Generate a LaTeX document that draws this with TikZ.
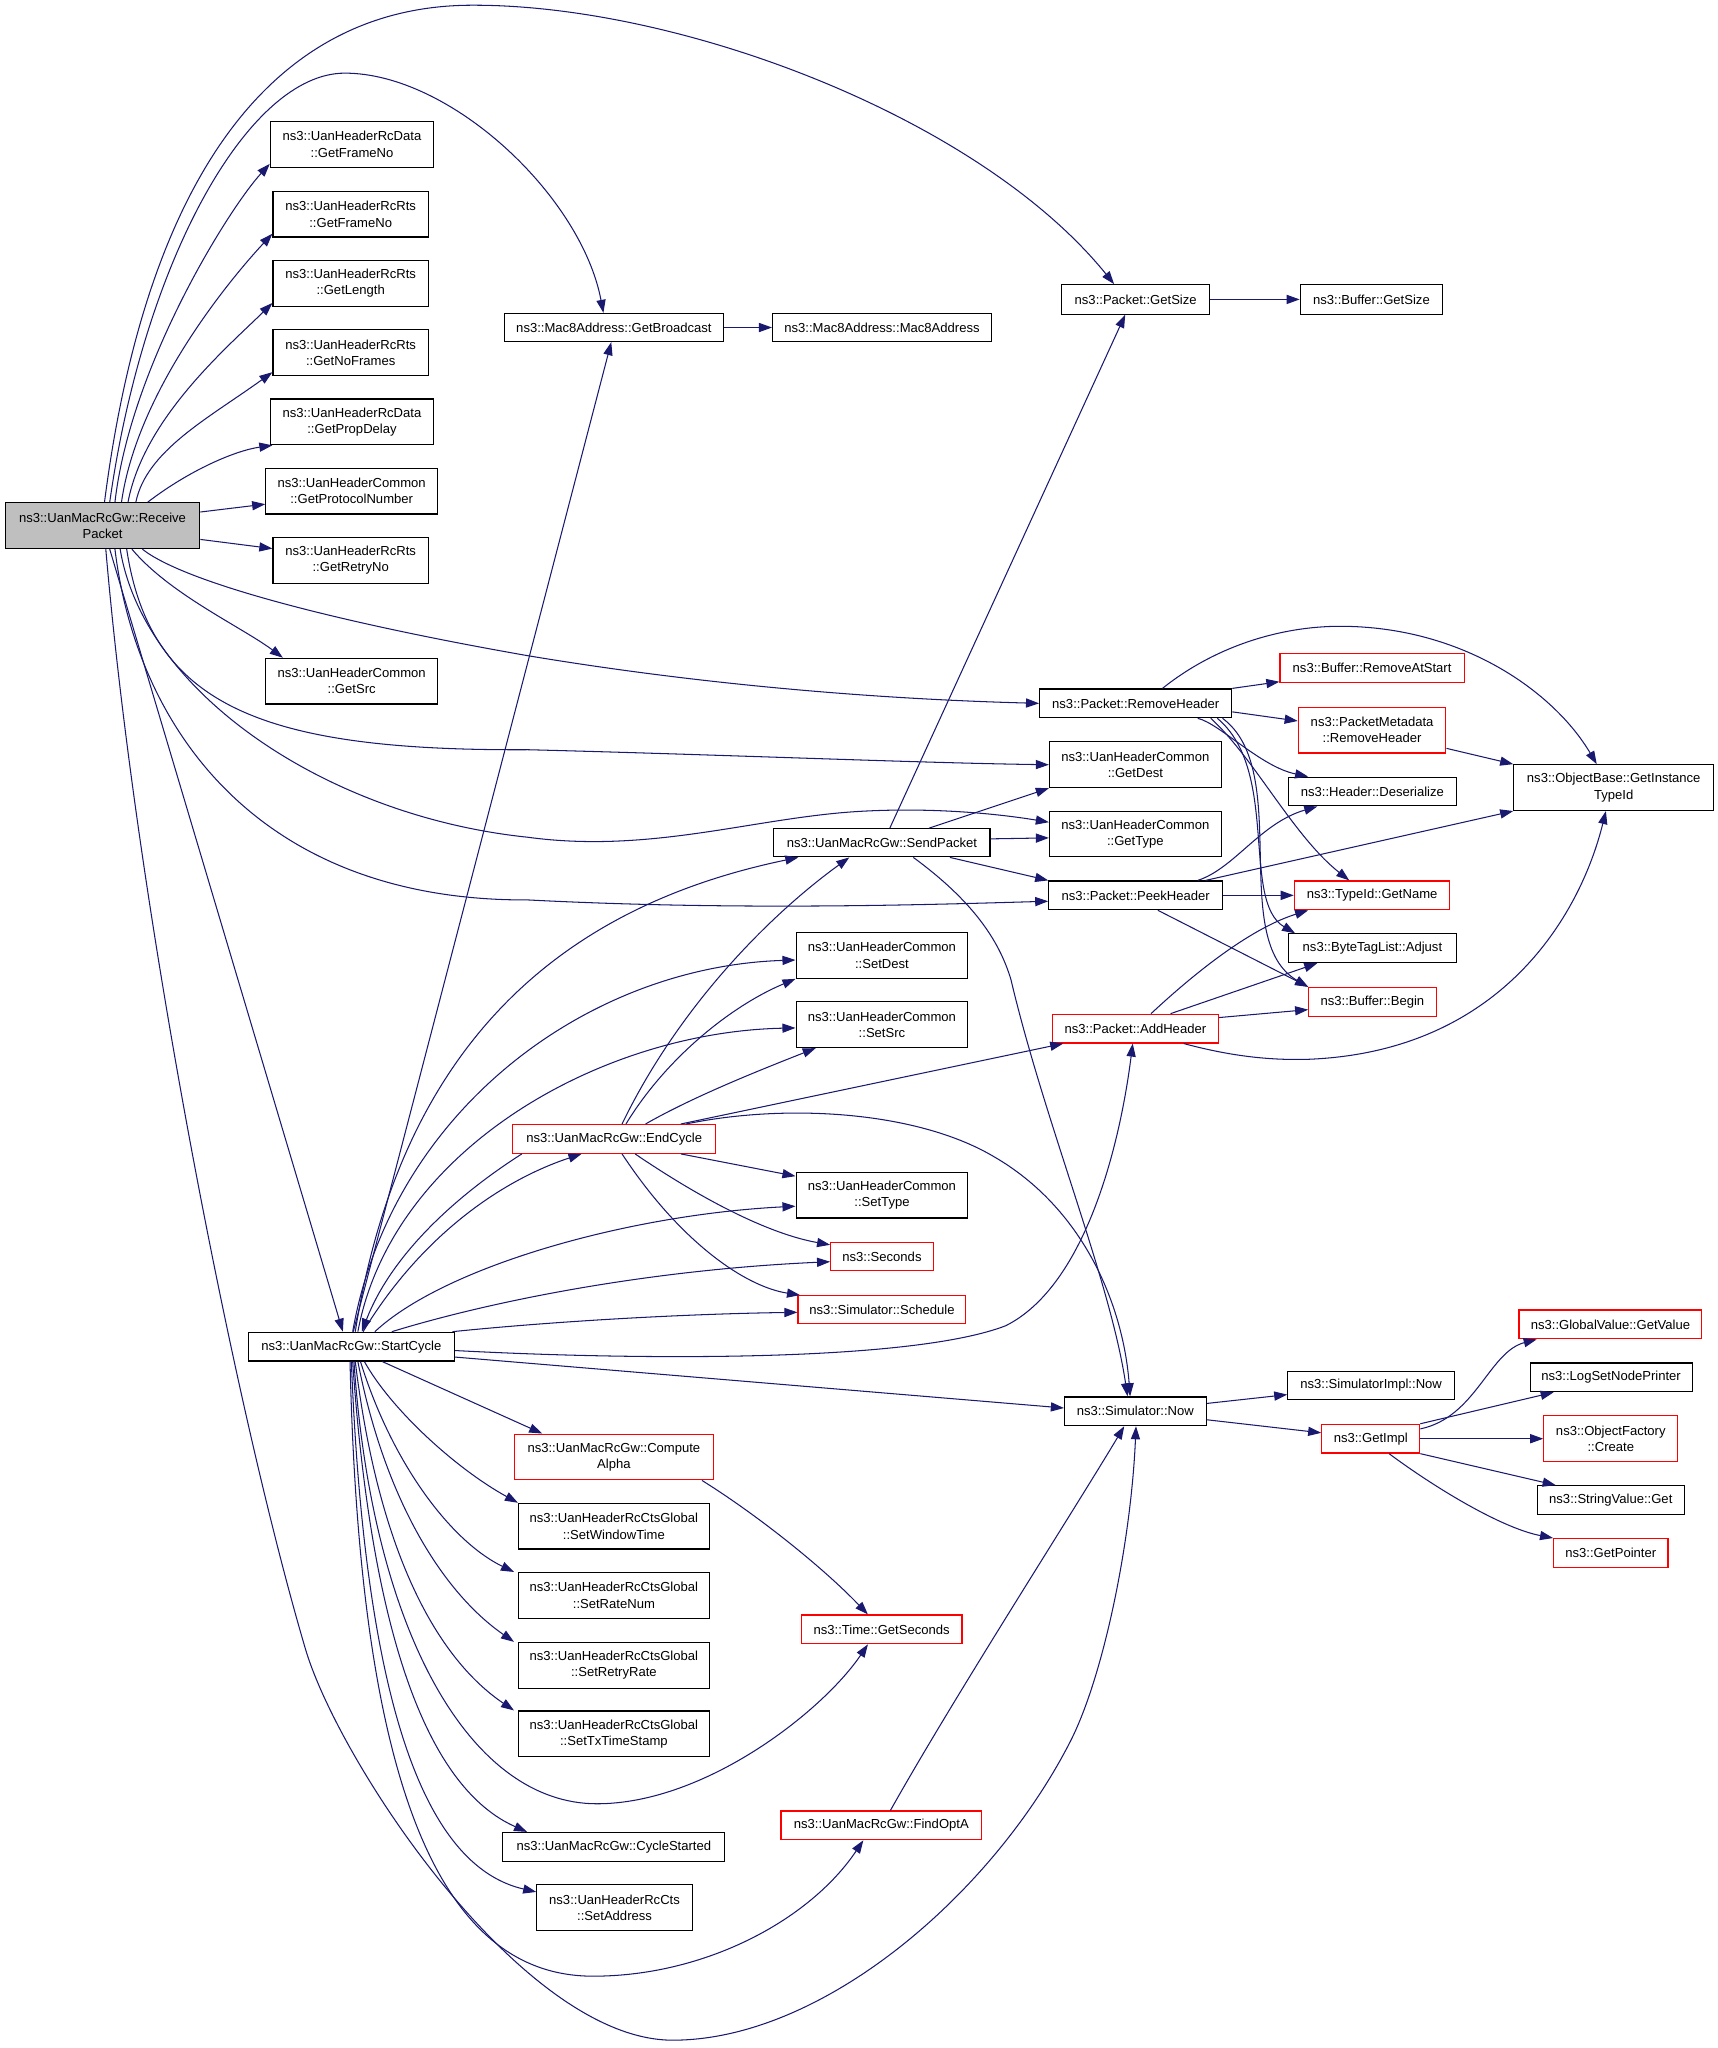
\documentclass[tikz,border=0pt]{standalone}
\usepackage{fontspec}
\setmainfont{Liberation Sans}
\usetikzlibrary{arrows.meta}
\definecolor{edgeblue}{HTML}{191970}
\definecolor{nodered}{HTML}{FF0000}
\definecolor{nodegray}{HTML}{BFBFBF}
\begin{document}
\begin{tikzpicture}[x=1pt,y=-1pt,
  box/.style={draw=black, line width=0.9pt, inner sep=0pt, align=center, fill=white,
    font=\fontsize{10}{12.5}\selectfont},
  redbox/.style={box, draw=nodered},
  graybox/.style={box, fill=nodegray},
  e/.style={draw=edgeblue, line width=0.8pt, -{Triangle[length=10pt,width=7pt]}}]
\fill[white] (0,0) rectangle (1314.6,1568);
\useasboundingbox (0,0) rectangle (1314.6,1568);

% ---------- nodes ----------
\node[graybox,minimum width=149pt,minimum height=35pt] (rp) at (78.5,402.5) {ns3::UanMacRcGw::Receive\\Packet};
\node[box,minimum width=125pt,minimum height=35pt] (g1) at (269.5,110.5) {ns3::UanHeaderRcData\\::GetFrameNo};
\node[box,minimum width=119pt,minimum height=35pt] (g2) at (268.5,164) {ns3::UanHeaderRcRts\\::GetFrameNo};
\node[box,minimum width=119pt,minimum height=35pt] (g3) at (268.5,217) {ns3::UanHeaderRcRts\\::GetLength};
\node[box,minimum width=119pt,minimum height=35pt] (g4) at (268.5,270) {ns3::UanHeaderRcRts\\::GetNoFrames};
\node[box,minimum width=125pt,minimum height=35pt] (g5) at (269.5,323) {ns3::UanHeaderRcData\\::GetPropDelay};
\node[box,minimum width=131.5pt,minimum height=35pt] (g6) at (269.25,376) {ns3::UanHeaderCommon\\::GetProtocolNumber};
\node[box,minimum width=119pt,minimum height=35pt] (g7) at (268.5,429) {ns3::UanHeaderRcRts\\::GetRetryNo};
\node[box,minimum width=131.5pt,minimum height=35pt] (g8) at (269.25,521.5) {ns3::UanHeaderCommon\\::GetSrc};
\node[box,minimum width=168pt,minimum height=21.5pt] (gb) at (470,250.75) {ns3::Mac8Address::GetBroadcast};
\node[box,minimum width=167.5pt,minimum height=21.5pt] (m8) at (675.25,250.75) {ns3::Mac8Address::Mac8Address};
\node[box,minimum width=113pt,minimum height=22.5pt] (ps) at (869.5,229.25) {ns3::Packet::GetSize};
\node[box,minimum width=109pt,minimum height=22.5pt] (bs) at (1050,229.25) {ns3::Buffer::GetSize};
\node[box,minimum width=147pt,minimum height=22pt] (rh) at (869.5,538.5) {ns3::Packet::RemoveHeader};
\node[redbox,minimum width=141pt,minimum height=22pt] (ras) at (1050.5,511.5) {ns3::Buffer::RemoveAtStart};
\node[redbox,minimum width=113pt,minimum height=35pt] (pmr) at (1050.5,559) {ns3::PacketMetadata\\::RemoveHeader};
\node[box,minimum width=153pt,minimum height=35pt] (oti) at (1235.5,603) {ns3::ObjectBase::GetInstance\\TypeId};
\node[box,minimum width=131.5pt,minimum height=35pt] (gd) at (869.25,585.5) {ns3::UanHeaderCommon\\::GetDest};
\node[box,minimum width=128.5pt,minimum height=22pt] (hd) at (1050.75,606) {ns3::Header::Deserialize};
\node[box,minimum width=131.5pt,minimum height=35pt] (gt) at (869.25,638.5) {ns3::UanHeaderCommon\\::GetType};
\node[box,minimum width=165.5pt,minimum height=21.5pt] (sp) at (675.25,645.25) {ns3::UanMacRcGw::SendPacket};
\node[box,minimum width=133pt,minimum height=22pt] (ph) at (869.5,685.5) {ns3::Packet::PeekHeader};
\node[redbox,minimum width=119pt,minimum height=22pt] (tn) at (1050.5,685.5) {ns3::TypeId::GetName};
\node[box,minimum width=128.5pt,minimum height=22pt] (bta) at (1050.75,726) {ns3::ByteTagList::Adjust};
\node[box,minimum width=131.5pt,minimum height=35pt] (sd) at (675.25,731.5) {ns3::UanHeaderCommon\\::SetDest};
\node[redbox,minimum width=97.5pt,minimum height=22pt] (bb) at (1050.75,767) {ns3::Buffer::Begin};
\node[redbox,minimum width=127.5pt,minimum height=22pt] (ah) at (869.25,787.5) {ns3::Packet::AddHeader};
\node[box,minimum width=131.5pt,minimum height=35pt] (ss) at (675.25,784.5) {ns3::UanHeaderCommon\\::SetSrc};
\node[redbox,minimum width=155.5pt,minimum height=22pt] (ec) at (470.25,872) {ns3::UanMacRcGw::EndCycle};
\node[box,minimum width=131.5pt,minimum height=35pt] (st) at (675.25,915) {ns3::UanHeaderCommon\\::SetType};
\node[redbox,minimum width=78.5pt,minimum height=22pt] (sec) at (675.25,962) {ns3::Seconds};
\node[redbox,minimum width=128.5pt,minimum height=21.5pt] (sch) at (675.25,1002.75) {ns3::Simulator::Schedule};
\node[box,minimum width=158pt,minimum height=22pt] (sc) at (269,1031) {ns3::UanMacRcGw::StartCycle};
\node[redbox,minimum width=140pt,minimum height=22pt] (gv) at (1233,1014) {ns3::GlobalValue::GetValue};
\node[box,minimum width=127.5pt,minimum height=21.5pt] (sin) at (1049.75,1060.75) {ns3::SimulatorImpl::Now};
\node[box,minimum width=108.5pt,minimum height=22pt] (now) at (869.25,1080.5) {ns3::Simulator::Now};
\node[box,minimum width=124pt,minimum height=22pt] (lsn) at (1233.5,1054.5) {ns3::LogSetNodePrinter};
\node[redbox,minimum width=75pt,minimum height=22pt] (gi) at (1049.5,1101.5) {ns3::GetImpl};
\node[redbox,minimum width=102.5pt,minimum height=35pt] (ofc) at (1233.25,1101.5) {ns3::ObjectFactory\\::Create};
\node[box,minimum width=112.5pt,minimum height=22pt] (svg) at (1233.25,1148.5) {ns3::StringValue::Get};
\node[redbox,minimum width=87.5pt,minimum height=22pt] (gp) at (1233.25,1189) {ns3::GetPointer};
\node[redbox,minimum width=152pt,minimum height=35pt] (ca) at (470,1115.5) {ns3::UanMacRcGw::Compute\\Alpha};
\node[box,minimum width=146pt,minimum height=35pt] (swt) at (470,1168.5) {ns3::UanHeaderRcCtsGlobal\\::SetWindowTime};
\node[box,minimum width=146pt,minimum height=35pt] (srn) at (470,1221.5) {ns3::UanHeaderRcCtsGlobal\\::SetRateNum};
\node[box,minimum width=146pt,minimum height=35pt] (srr) at (470,1275) {ns3::UanHeaderRcCtsGlobal\\::SetRetryRate};
\node[box,minimum width=146pt,minimum height=35pt] (sts) at (470,1327.5) {ns3::UanHeaderRcCtsGlobal\\::SetTxTimeStamp};
\node[redbox,minimum width=123pt,minimum height=22pt] (tgs) at (675,1247.5) {ns3::Time::GetSeconds};
\node[box,minimum width=170pt,minimum height=22pt] (cs) at (470,1414) {ns3::UanMacRcGw::CycleStarted};
\node[redbox,minimum width=153.5pt,minimum height=22pt] (foa) at (674.75,1397.5) {ns3::UanMacRcGw::FindOptA};
\node[box,minimum width=119pt,minimum height=35pt] (sa) at (470.5,1460.5) {ns3::UanHeaderRcCts\\::SetAddress};

% ---------- edges from ReceivePacket ----------
\draw[e] ([xshift=1.5pt]rp.north) .. controls (110,150) and (200,5) .. (360,4) .. controls (520,3) and (750,90) .. ([xshift=-16.5pt]ps.north);
\draw[e] ([xshift=5.5pt]rp.north) .. controls (110,200) and (190,56) .. (264,56) .. controls (345,56) and (445,150) .. ([xshift=-8pt]gb.north);
\draw[e] ([xshift=9.5pt]rp.north) .. controls (100,280) and (175,160) .. ([yshift=3pt]g1.south west);
\draw[e] ([xshift=14.5pt]rp.north) .. controls (105,300) and (175,215) .. ([yshift=3pt]g2.south west);
\draw[e] ([xshift=19.5pt]rp.north) .. controls (110,320) and (175,265) .. ([yshift=3pt]g3.south west);
\draw[e] ([xshift=25.5pt]rp.north) .. controls (112,345) and (160,320) .. ([yshift=3pt]g4.south west);
\draw[e] ([xshift=34.5pt]rp.north) .. controls (145,360) and (180,345) .. ([xshift=2pt]g5.south west);
\draw[e] ([yshift=10.5pt]rp.east) -- ([yshift=-10pt]g6.west);
\draw[e] ([yshift=-10.5pt]rp.east) -- ([yshift=9pt]g7.west);
\draw[e] ([xshift=22.5pt]rp.south) .. controls (130,455) and (185,480) .. ([xshift=13.5pt]g8.north west);
\draw[e] ([xshift=30.5pt]rp.south) .. controls (140,445) and (250,475) .. (404,502) .. controls (560,528) and (700,536) .. (rh.west);
\draw[e] ([xshift=18.5pt]rp.south) .. controls (115,540) and (200,575) .. (404,574) .. controls (560,578) and (700,584) .. (gd.west);
\draw[e] ([xshift=13.5pt]rp.south) .. controls (110,530) and (250,625) .. (404,641) .. controls (500,654) and (580,625) .. (662,621) .. controls (720,618) and (770,624) .. ([yshift=9pt]gt.west);
\draw[e] ([xshift=9.5pt]rp.south) .. controls (105,560) and (200,690) .. (404,689) .. controls (560,697) and (700,693) .. ([yshift=-4.5pt]ph.west);
\draw[e] ([xshift=5.5pt]rp.south) -- ([xshift=-6.5pt]sc.north);
\draw[e] ([xshift=2.5pt]rp.south) .. controls (105,700) and (180,1080) .. (234,1263) .. controls (260,1350) and (400,1562) .. (515,1562) .. controls (630,1562) and (760,1450) .. (819.6,1333) .. controls (845,1283) and (866,1180) .. ([xshift=0.5pt]now.south);

\draw[e] (gb) -- (m8);
\draw[e] (ps) -- (bs);

% ---------- edges from StartCycle ----------
\draw[e] ([xshift=1.5pt]sc.north) -- ([xshift=-2pt]gb.south);
\draw[e] ([xshift=3pt]sc.north) .. controls (310,780) and (450,690) .. ([xshift=-64pt]sp.south);
\draw[e] ([xshift=1pt]sc.north) .. controls (300,850) and (450,740) .. ([yshift=-3.5pt]sd.west);
\draw[e] ([xshift=5pt]sc.north) .. controls (300,880) and (460,790) .. ([yshift=-2.5pt]ss.west);
\draw[e] ([xshift=9pt]sc.north) .. controls (320,950) and (380,905) .. ([xshift=-25pt]ec.south);
\draw[e] ([xshift=7.5pt]ec.south west) .. controls (350,915) and (300,960) .. ([xshift=8pt]sc.north);
\draw[e] ([xshift=18pt]sc.north) .. controls (340,970) and (480,930) .. ([yshift=-8.5pt]st.west);
\draw[e] ([xshift=31pt]sc.north) .. controls (380,995) and (500,972) .. ([yshift=-4pt]sec.west);
\draw[e] ([xshift=-2pt]sc.north east) .. controls (420,1012) and (520,1006) .. ([yshift=-2pt]sch.west);
\draw[e] ([yshift=-3pt]sc.east) .. controls (500,1042) and (700,1042) .. (770,1015) .. controls (830,985) and (857,880) .. ([xshift=-2pt]ah.south);
\draw[e] ([yshift=-8pt]sc.east) -- ([yshift=2.5pt]now.west);
\draw[e] ([xshift=23.7pt]sc.south) -- ([xshift=21.6pt]ca.north west);
\draw[e] ([xshift=10pt]sc.south) .. controls (300,1080) and (350,1125) .. (swt.north west);
\draw[e] ([xshift=7pt]sc.south) .. controls (300,1120) and (345,1180) .. ([xshift=-3pt]srn.north west);
\draw[e] ([xshift=5pt]sc.south) .. controls (295,1150) and (340,1220) .. ([xshift=-3pt]srr.north west);
\draw[e] ([xshift=3pt]sc.south) .. controls (290,1190) and (335,1270) .. ([xshift=-3pt]sts.north west);
\draw[e] ([xshift=2pt]sc.south) .. controls (285,1250) and (360,1381) .. (457,1381) .. controls (540,1381) and (630,1310) .. ([xshift=-10.5pt]tgs.south);
\draw[e] ([xshift=1pt]sc.south) .. controls (285,1260) and (330,1370) .. ([xshift=19pt]cs.north west);
\draw[e] (sc.south) .. controls (280,1320) and (330,1430) .. ([yshift=12pt]sa.west);
\draw[e] ([xshift=-1pt]sc.south) .. controls (275,1350) and (330,1513) .. (454,1513) .. controls (540,1513) and (620,1470) .. ([xshift=-13.75pt]foa.south);

% ---------- edges from EndCycle ----------
\draw[e] ([xshift=6pt]ec.north) .. controls (520,770) and (590,700) .. ([xshift=-25pt]sp.south);
\draw[e] ([xshift=9pt]ec.north) .. controls (510,810) and (560,770) .. (sd.south west);
\draw[e] ([xshift=24pt]ec.north) .. controls (530,840) and (580,820) .. ([xshift=15.5pt]ss.south west);
\draw[e] ([xshift=51pt]ec.north) -- ([xshift=9pt]ah.south west);
\draw[e] ([xshift=55pt]ec.north) .. controls (600,845) and (700,850) .. (760,885) .. controls (830,925) and (860,1000) .. ([xshift=-4pt]now.north);
\draw[e] ([xshift=51pt]ec.south) -- ([yshift=14.5pt]st.west);
\draw[e] ([xshift=16pt]ec.south) .. controls (540,920) and (590,945) .. ([yshift=-2.5pt]sec.north west);
\draw[e] ([xshift=6pt]ec.south) .. controls (520,950) and (570,985) .. ([xshift=2pt]sch.north west);

% ---------- edges from SendPacket ----------
\draw[e] ([xshift=6pt]sp.north) -- ([xshift=-8pt]ps.south);
\draw[e] ([xshift=36pt]sp.north) -- (gd.south west);
\draw[e] ([yshift=3pt]sp.east) -- ([yshift=-3pt]gt.west);
\draw[e] ([xshift=52pt]sp.south) -- (ph.north west);
\draw[e] ([xshift=24pt]sp.south) .. controls (745,690) and (765,720) .. (774,750) .. controls (800,860) and (850,980) .. ([xshift=-6pt]now.north);

% ---------- packet header functions ----------
\draw[e] (rh.north east) -- ([yshift=1pt]ras.south west);
\draw[e] ([yshift=-6.5pt]rh.east) -- ([yshift=7pt]pmr.west);
\draw[e] ([xshift=20.5pt]rh.north) .. controls (930,495) and (980,479.5) .. (1026,479.5) .. controls (1120,479.5) and (1190,530) .. ([xshift=-13pt]oti.north);
\draw[e] ([xshift=47.5pt]rh.south) .. controls (934,554) and (965,587) .. ([xshift=15.5pt]hd.north west);
\draw[e] ([xshift=57.5pt]rh.south) .. controls (960,580) and (990,640) .. ([xshift=-17.5pt]tn.north);
\draw[e] ([xshift=62.5pt]rh.south) .. controls (980,590) and (950,690) .. ([xshift=5.5pt]bta.north west);
\draw[e] ([xshift=66.5pt]rh.south) .. controls (990,590) and (940,720) .. (bb.north west);
\draw[e] ([yshift=4pt]pmr.south east) -- (oti.north west);
\draw[e] ([xshift=47.5pt]ph.north) .. controls (945,665) and (965,630) .. ([xshift=22.5pt]hd.south west);
\draw[e] ([xshift=53.5pt]ph.north) -- (oti.south west);
\draw[e] (ph) -- (tn);
\draw[e] ([xshift=17pt]ph.south) -- (bb.north west);
\draw[e] ([xshift=12pt]ah.north) .. controls (920,740) and (960,710) .. ([xshift=11pt]tn.south west);
\draw[e] ([xshift=27pt]ah.north) -- ([xshift=22.5pt]bta.south west);
\draw[e] ([yshift=-3pt]ah.north east) -- ([yshift=-6pt]bb.west);
\draw[e] ([xshift=37pt]ah.south) .. controls (940,808) and (970,812) .. (1002,811) .. controls (1150,805) and (1210,700) .. ([xshift=-6pt]oti.south);

% ---------- remaining ----------
\draw[e] ([xshift=-9pt]ca.south east) .. controls (580,1160) and (630,1200) .. ([xshift=-10.5pt]tgs.north);
\draw[e] ([xshift=7pt]foa.north) .. controls (730,1300) and (820,1160) .. ([xshift=-8.5pt]now.south);
\draw[e] ([yshift=6pt]now.east) -- ([yshift=-7pt]sin.west);
\draw[e] ([yshift=-6.5pt]now.east) -- ([yshift=4.5pt]gi.west);
\draw[e] ([yshift=7.5pt]gi.east) .. controls (1130,1085) and (1140,1035) .. ([xshift=14pt]gv.south west);
\draw[e] (gi.north east) -- ([xshift=18.5pt]lsn.south west);
\draw[e] (gi) -- (ofc);
\draw[e] (gi.south east) -- ([xshift=14.5pt]svg.north west);
\draw[e] ([xshift=14pt]gi.south) .. controls (1100,1140) and (1150,1170) .. (gp.north west);
\end{tikzpicture}
\end{document}
